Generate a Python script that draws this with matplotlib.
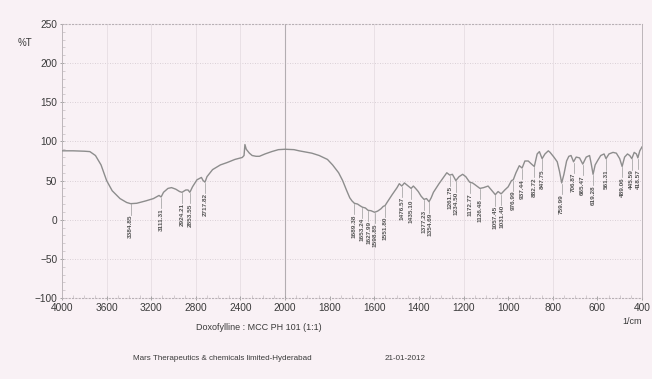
import numpy as np
import matplotlib.pyplot as plt

# spectrum (wavenumber in 1/cm, %T)
wavenumber = [4000, 3900, 3800, 3750, 3700, 3650, 3600, 3550, 3480, 3420, 3384.85, 3330,
              3250, 3180, 3130, 3111.31, 3090, 3050, 3018, 2980, 2946, 2924.21, 2890,
              2870, 2853.55, 2830, 2790, 2750, 2735, 2717.82, 2700, 2650, 2580, 2520,
              2450, 2384, 2368, 2360, 2348, 2320, 2295, 2260, 2230, 2180, 2120, 2060,
              2000, 1960, 1937, 1880, 1847, 1810, 1787, 1760, 1742, 1725, 1710, 1700,
              1689.38, 1675, 1665, 1653.24, 1640, 1627.99, 1615, 1598.85, 1585, 1570,
              1560, 1551.80, 1543, 1520, 1498, 1488, 1476.57, 1465, 1452, 1435.10, 1425,
              1415, 1403, 1390, 1377.23, 1366, 1354.69, 1345, 1335, 1310, 1290, 1275,
              1261.75, 1250, 1234.50, 1220, 1204, 1190, 1172.77, 1160, 1150, 1126.48,
              1110, 1090, 1075, 1057.45, 1045, 1031.40, 1015, 1000, 985, 976.99, 965, 950,
              937.44, 925, 910, 895, 882.72, 870, 860, 847.75, 835, 820, 812, 795, 780,
              770, 759.99, 750, 738, 728, 718, 706.87, 695, 680, 665.47, 650, 635, 628,
              619.28, 610, 598, 585, 570, 561.31, 548, 530, 515, 500, 489.06, 478, 465,
              455, 445.59, 435, 425, 418.57, 410, 400]
transmittance = [88, 88, 87.5, 87, 82, 70, 50, 37, 27, 22, 20.5, 21,
                 24, 27, 31, 29, 35, 40, 41, 39, 36, 35, 38,
                 38, 35, 42, 51, 54, 50, 48, 55, 64, 70, 73,
                 77, 79.5, 82, 96, 90, 85, 82, 81, 81, 84, 87, 89.5,
                 90, 89.5, 88, 85, 82, 77, 70, 60, 50, 38, 28, 24,
                 21, 20, 18, 16, 15, 12, 11.5, 9.5, 11, 14,
                 17, 18, 22, 32, 41, 46, 43, 47, 44, 40, 43,
                 40, 36, 30, 26, 27, 23, 28, 35, 46, 54, 60,
                 57, 58, 50, 55, 58, 55, 48, 47, 45, 40,
                 41, 43, 38, 32, 36, 33, 38, 42, 50, 51, 60, 69,
                 66, 75, 75, 71, 68, 84, 87, 78, 84, 88, 86, 80, 74,
                 62, 47, 58, 75, 81, 82, 74, 80, 79, 71, 80, 82, 72,
                 58, 70, 76, 82, 84, 78, 84, 86, 85, 78, 68, 80, 84,
                 82, 78, 86, 84, 79, 88, 93]

peak_wn = [3384.85, 3111.31, 2924.21, 2853.55, 2717.82, 1689.38, 1653.24, 1627.99,
           1598.85, 1551.80, 1476.57, 1435.10, 1377.23, 1354.69, 1261.75, 1234.50,
           1172.77, 1126.48, 1057.45, 1031.40, 976.99, 937.44, 882.72, 847.75, 759.99,
           706.87, 665.47, 619.28, 561.31, 489.06, 445.59, 418.57]
peak_text = ['%.2f' % w for w in peak_wn]

y_ticks = [-100, -50, 0, 50, 100, 150, 200, 250]
x_ticks = [4000, 3600, 3200, 2800, 2400, 2000, 1800, 1600, 1400, 1200, 1000, 800, 600, 400]
v_lines = [3600, 3200, 2800, 2400, 1600, 1200, 800]

bg = '#f9f1f5'
plt.rcParams['font.family'] = ['Liberation Sans', 'DejaVu Sans']


# the chart is drawn at half density above 2000 1/cm
def fwd(x):
    x = np.asarray(x, dtype=float)
    return np.where(x > 2000, 2000 + (x - 2000) / 2.0, x)


def inv(u):
    u = np.asarray(u, dtype=float)
    return np.where(u > 2000, 2000 + (u - 2000) * 2.0, u)


fig = plt.figure(figsize=(6.52, 3.79), dpi=100, facecolor=bg)
ax = fig.add_axes([62 / 652, 1 - 298 / 379, 580 / 652, 274 / 379], facecolor=bg)
ax.set_xscale('function', functions=(fwd, inv))
ax.set_xlim(4000, 400)
ax.set_ylim(-100, 250)

for y in y_ticks[1:-1]:
    ax.axhline(y, color='#cfc6cc', lw=0.6, ls=(0, (1, 2)), zorder=0)
for x in v_lines:
    ax.axvline(x, color='#e6dde3', lw=0.6, zorder=0)
ax.axvline(2000, color='#b3adb1', lw=0.8, zorder=0)

ax.plot(wavenumber, transmittance, color='#8d8d8d', lw=1.0, zorder=3)

# peak picks: tick below each dip and the value written upward,
# nudged sideways when two picks sit too close together
last_px = -100.0
for w, s in zip(peak_wn, peak_text):
    t = np.interp(w, wavenumber[::-1], transmittance[::-1])
    ax.plot([w, w], [t - 1, t - 14], color='#9a9a9a', lw=0.5, zorder=2)
    px = ax.transData.transform((w, t))[0]
    shift = max(0.0, last_px + 6.5 - px)
    last_px = px + shift
    ax.annotate(s, (w, t - 14), xytext=(shift * 0.72, 0), textcoords='offset points',
                rotation=90, ha='center', va='top', fontsize=4.6,
                color='#555555', fontweight='bold')

ax.set_yticks(y_ticks)
ax.set_yticks(np.arange(-100, 251, 10), minor=True)
ax.set_xticks(x_ticks)
ax.set_xticklabels([str(x) for x in x_ticks])
ax.set_xticks(list(range(4000, 2000, -100)) + list(range(2000, 399, -50)), minor=True)
ax.tick_params(axis='both', which='major', labelsize=7.3, colors='#9a9a9a',
               labelcolor='#3a3a3a', length=3, width=0.6, direction='inout')
ax.tick_params(axis='both', which='minor', colors='#c4bcc1', length=2, width=0.5,
               direction='in')
ax.tick_params(axis='x', pad=2)
ax.tick_params(axis='y', pad=2)

for side in ['left', 'right']:
    ax.spines[side].set_color('#bdb6ba')
    ax.spines[side].set_linewidth(0.7)
for side in ['top', 'bottom']:
    ax.spines[side].set_color('#b8b0b5')
    ax.spines[side].set_linewidth(0.8)
    ax.spines[side].set_linestyle((0, (1, 2)))

fig.text(18 / 652, 1 - 43 / 379, '%T', fontsize=7, color='#3a3a3a', ha='left', va='center')
fig.text(642 / 652, 1 - 321 / 379, '1/cm', fontsize=6.5, color='#3a3a3a', ha='right', va='center')
fig.text(196 / 652, 1 - 328 / 379, 'Doxofylline : MCC PH 101 (1:1)', fontsize=6.5,
         color='#3a3a3a', ha='left', va='center')
fig.text(133 / 652, 1 - 358 / 379, 'Mars Therapeutics & chemicals limited-Hyderabad',
         fontsize=5.8, color='#3a3a3a', ha='left', va='center')
fig.text(385 / 652, 1 - 358 / 379, '21-01-2012', fontsize=5.8, color='#3a3a3a',
         ha='left', va='center')

fig.savefig('out.png', dpi=100, facecolor=bg)
